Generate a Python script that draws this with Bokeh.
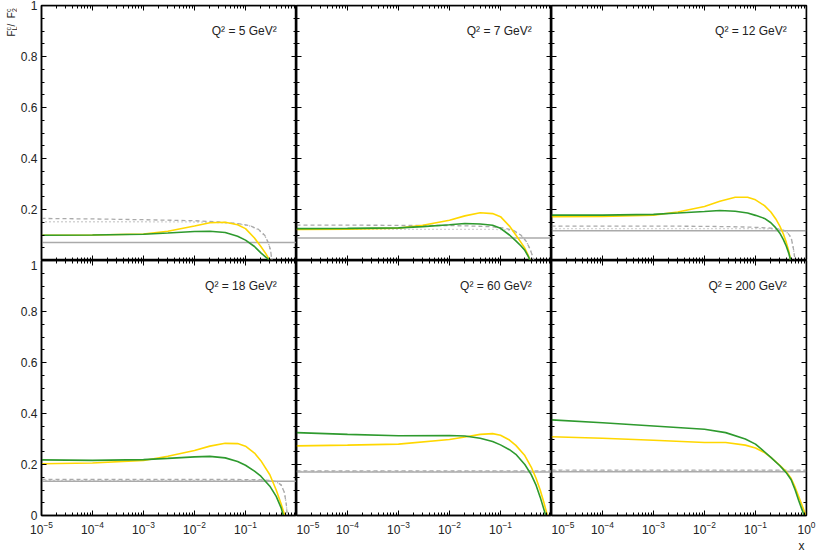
import math
from bokeh.plotting import figure
from bokeh.layouts import gridplot, row
from bokeh.models import (FixedTicker, LogAxis, LinearAxis, Label, NumeralTickFormatter,
                          LogTickFormatter, Range1d, CustomJSTickFormatter, Title)
from bokeh.embed import file_html
from bokeh.resources import INLINE

FONT = "Liberation Sans"

# ---------------- data ----------------
q2_titles = ["Q² = 5 GeV²", "Q² = 7 GeV²", "Q² = 12 GeV²",
             "Q² = 18 GeV²", "Q² = 60 GeV²", "Q² = 200 GeV²"]

x_major = [1e-5, 1e-4, 1e-3, 1e-2, 1e-1, 1.0]
y_major_top = [0.2, 0.4, 0.6, 0.8, 1.0]
y_major_bottom = [0, 0.2, 0.4, 0.6, 0.8, 1.0]

# Panel 1: Q2 = 5
p1_x = [1e-5, 1e-4, 1e-3, 3e-3, 1e-2, 2e-2, 4e-2, 7e-2, 0.1, 0.15, 0.2, 0.25, 0.3]
p1_green = [0.099, 0.100, 0.103, 0.108, 0.114, 0.115, 0.110, 0.095, 0.080, 0.055, 0.030, 0.013, 0.0]
p1_yellow = [0.099, 0.100, 0.104, 0.115, 0.135, 0.148, 0.150, 0.140, 0.125, 0.088, 0.055, 0.027, 0.0]
p1_gray_x = [1e-5, 1e-4, 1e-3, 1e-2, 3e-2, 0.07, 0.12, 0.18, 0.24, 0.28, 0.31, 0.33]
p1_dashed = [0.165, 0.163, 0.160, 0.156, 0.151, 0.145, 0.137, 0.122, 0.098, 0.070, 0.040, 0.0]
p1_dotted = [0.152, 0.152, 0.152, 0.151, 0.149, 0.144, 0.136, 0.121, 0.097, 0.069, 0.040, 0.0]
p1_flat = 0.071

# Panel 2: Q2 = 7
p2_x = [1e-5, 1e-4, 1e-3, 3e-3, 1e-2, 2e-2, 4e-2, 7e-2, 0.1, 0.15, 0.2, 0.25, 0.3, 0.35, 0.38]
p2_green = [0.125, 0.126, 0.128, 0.133, 0.140, 0.145, 0.143, 0.138, 0.126, 0.100, 0.077, 0.058, 0.040, 0.016, 0.0]
p2_yellow = [0.122, 0.123, 0.127, 0.138, 0.158, 0.175, 0.187, 0.184, 0.172, 0.135, 0.100, 0.072, 0.048, 0.020, 0.0]
p2_gray_x = [1e-5, 1e-3, 1e-2, 3e-2, 0.07, 0.12, 0.18, 0.25, 0.32, 0.38, 0.42, 0.45]
p2_dashed = [0.139, 0.138, 0.137, 0.135, 0.132, 0.127, 0.118, 0.100, 0.075, 0.045, 0.020, 0.0]
p2_dotted = [0.122, 0.122, 0.122, 0.122, 0.122, 0.121, 0.116, 0.100, 0.075, 0.045, 0.020, 0.0]
p2_flat = 0.088

# Panel 3: Q2 = 12
p3_x = [1e-5, 1e-4, 1e-3, 3e-3, 1e-2, 2e-2, 4e-2, 7e-2, 0.1, 0.15, 0.2, 0.25, 0.3, 0.35, 0.4, 0.45, 0.49]
p3_green = [0.178, 0.178, 0.181, 0.186, 0.192, 0.196, 0.193, 0.186, 0.177, 0.165, 0.148, 0.128, 0.107, 0.083, 0.057, 0.028, 0.0]
p3_yellow = [0.172, 0.173, 0.178, 0.190, 0.212, 0.232, 0.248, 0.248, 0.238, 0.215, 0.190, 0.163, 0.135, 0.105, 0.072, 0.036, 0.0]
p3_gray_x = [1e-5, 1e-3, 1e-2, 0.05, 0.1, 0.2, 0.3, 0.4, 0.5, 0.55, 0.6]
p3_dashed = [0.135, 0.135, 0.134, 0.132, 0.130, 0.127, 0.123, 0.115, 0.090, 0.050, 0.0]
p3_dotted = [0.125, 0.125, 0.125, 0.125, 0.125, 0.124, 0.121, 0.113, 0.090, 0.050, 0.0]
p3_flat = 0.117

# Panel 4: Q2 = 18
p4_green_x = [1e-5, 1e-4, 1e-3, 3e-3, 1e-2, 2e-2, 4e-2, 7e-2, 0.1, 0.15, 0.2, 0.3, 0.4, 0.5, 0.55]
p4_green = [0.218, 0.216, 0.219, 0.224, 0.230, 0.232, 0.226, 0.212, 0.197, 0.174, 0.154, 0.115, 0.075, 0.030, 0.0]
p4_yellow_x = [1e-5, 1e-4, 1e-3, 3e-3, 1e-2, 2e-2, 4e-2, 7e-2, 0.1, 0.15, 0.2, 0.3, 0.4, 0.5, 0.59]
p4_yellow = [0.203, 0.206, 0.216, 0.232, 0.255, 0.272, 0.283, 0.282, 0.272, 0.245, 0.215, 0.160, 0.100, 0.045, 0.0]
p4_gray_x = [1e-5, 1e-3, 1e-2, 0.1, 0.2, 0.3, 0.4, 0.5, 0.58, 0.63, 0.66]
p4_dashed = [0.142, 0.142, 0.142, 0.141, 0.140, 0.138, 0.133, 0.120, 0.090, 0.045, 0.0]
p4_dotted = [0.138, 0.138, 0.138, 0.138, 0.137, 0.136, 0.132, 0.119, 0.090, 0.045, 0.0]
p4_flat = 0.134

# Panel 5: Q2 = 60
p5_green_x = [1e-5, 1e-4, 1e-3, 1e-2, 2e-2, 4e-2, 7e-2, 0.1, 0.15, 0.2, 0.3, 0.4, 0.5, 0.6, 0.7, 0.77]
p5_green = [0.325, 0.318, 0.313, 0.314, 0.312, 0.303, 0.290, 0.277, 0.258, 0.240, 0.200, 0.160, 0.118, 0.072, 0.028, 0.0]
p5_yellow_x = [1e-5, 1e-4, 1e-3, 1e-2, 2e-2, 4e-2, 7e-2, 0.1, 0.15, 0.2, 0.3, 0.4, 0.5, 0.6, 0.7, 0.83]
p5_yellow = [0.273, 0.276, 0.280, 0.298, 0.308, 0.318, 0.321, 0.315, 0.296, 0.275, 0.235, 0.190, 0.145, 0.100, 0.055, 0.0]
p5_gray_x = [1e-5, 1.0]
p5_dashed = [0.175, 0.175]
p5_dotted = [0.173, 0.173]
p5_flat = 0.171

# Panel 6: Q2 = 200
p6_green_x = [1e-5, 1e-4, 1e-3, 1e-2, 2.6e-2, 6.3e-2, 0.1, 0.15, 0.2, 0.3, 0.4, 0.5, 0.6, 0.7, 0.8, 0.9]
p6_green = [0.375, 0.364, 0.351, 0.338, 0.325, 0.300, 0.280, 0.250, 0.228, 0.195, 0.168, 0.140, 0.100, 0.060, 0.028, 0.0]
p6_yellow_x = [1e-5, 1e-4, 1e-3, 1e-2, 2.6e-2, 6.3e-2, 0.1, 0.15, 0.2, 0.3, 0.4, 0.5, 0.6, 0.7, 0.8, 0.9, 0.97]
p6_yellow = [0.309, 0.303, 0.295, 0.286, 0.286, 0.276, 0.265, 0.247, 0.228, 0.197, 0.172, 0.145, 0.110, 0.075, 0.045, 0.018, 0.0]
p6_gray_x = [1e-5, 1.0]
p6_dashed = [0.178, 0.178]
p6_dotted = [0.175, 0.175]
p6_flat = 0.172

panels = [
    (p1_x, p1_green, p1_x, p1_yellow, p1_gray_x, p1_dashed, p1_dotted, p1_flat),
    (p2_x, p2_green, p2_x, p2_yellow, p2_gray_x, p2_dashed, p2_dotted, p2_flat),
    (p3_x, p3_green, p3_x, p3_yellow, p3_gray_x, p3_dashed, p3_dotted, p3_flat),
    (p4_green_x, p4_green, p4_yellow_x, p4_yellow, p4_gray_x, p4_dashed, p4_dotted, p4_flat),
    (p5_green_x, p5_green, p5_yellow_x, p5_yellow, p5_gray_x, p5_dashed, p5_dotted, p5_flat),
    (p6_green_x, p6_green, p6_yellow_x, p6_yellow, p6_gray_x, p6_dashed, p6_dotted, p6_flat),
]

# ---------------- styling ----------------
GREEN = "#2E9A2E"
YELLOW = "#FFD700"
GRAY = "#AAAAAA"
TXT = "#222222"

YLAB_W, YLAB_H = 17, 48
FWS = [255, 255, 255]
FH = 255
LEFT, RIGHT, TOP, BOTTOM = 41 - YLAB_W, 10, 5, 35

x_minor = [m * 10.0 ** e for e in range(-5, 0) for m in range(2, 10)]
y_minor = [round(i * 0.05, 2) for i in range(21)]


def style_axis(ax, show, standoff=4):
    ax.axis_line_color = "black"
    ax.axis_line_width = 1.5
    ax.major_tick_in = 5
    ax.major_tick_out = 0
    ax.minor_tick_in = 3
    ax.minor_tick_out = 0
    ax.major_tick_line_color = "black"
    ax.minor_tick_line_color = "black"
    ax.major_tick_line_width = 1
    ax.minor_tick_line_width = 1
    ax.major_label_text_font = FONT
    ax.major_label_text_font_size = "12px"
    ax.major_label_text_color = TXT
    if show:
        ax.major_label_standoff = standoff
    else:
        ax.major_label_standoff = 0
        ax.formatter = CustomJSTickFormatter(code="return ''")


figs = []
for idx, (gx, gy, yx, yy, grx, dsh, dot, flat) in enumerate(panels):
    r, col = divmod(idx, 3)
    p = figure(x_axis_type="log", x_range=Range1d(1e-5, 1.0), y_range=Range1d(0, 1),
               frame_width=FWS[col], frame_height=FH,
               min_border_left=LEFT if col == 0 else 0,
               min_border_right=RIGHT if col == 2 else 0,
               min_border_top=TOP if r == 0 else 0,
               min_border_bottom=BOTTOM if r == 1 else 0,
               output_backend="svg", toolbar_location=None,
               background_fill_color="white", border_fill_color="white",
               outline_line_color="black", outline_line_width=1.5)
    p.grid.visible = False

    # bottom axis
    bx = p.xaxis[0]
    show_x = r == 1
    bx.ticker = FixedTicker(ticks=(x_major if col == 2 else x_major[:-1]) if show_x else x_major,
                            minor_ticks=x_minor)
    if show_x:
        bx.formatter = LogTickFormatter()
    else:
        bx.fixed_location = 0
    style_axis(bx, show_x, standoff=5)
    # left axis
    ly = p.yaxis[0]
    show_y = col == 0
    ly.ticker = FixedTicker(ticks=(y_major_top if r == 0 else y_major_bottom) if show_y else y_major_bottom,
                            minor_ticks=y_minor)
    if show_y:
        ly.formatter = NumeralTickFormatter(format="0.[0]")
    else:
        ly.fixed_location = 1e-5
    style_axis(ly, show_y, standoff=4)
    # mirrored axes (placed on frame edges, no space taken)
    ax_top = LogAxis(ticker=FixedTicker(ticks=x_major, minor_ticks=x_minor), fixed_location=1.0)
    style_axis(ax_top, False)
    p.add_layout(ax_top, "above")
    ax_right = LinearAxis(ticker=FixedTicker(ticks=y_major_bottom, minor_ticks=y_minor), fixed_location=1.0)
    style_axis(ax_right, False)
    p.add_layout(ax_right, "right")

    # curves
    p.line([grx[0], 1.0], [flat, flat], line_color=GRAY, line_width=1.5)
    p.line(grx, dsh, line_color=GRAY, line_width=1.3, line_dash="4 3")
    p.line(grx, dot, line_color=GRAY, line_width=1.3, line_dash="1 3")
    p.line(yx, yy, line_color=YELLOW, line_width=1.6)
    p.line(gx, gy, line_color=GREEN, line_width=1.6)

    p.add_layout(Label(x=0.41, y=0.9, text=q2_titles[idx], text_align="right",
                       text_baseline="middle", text_font=FONT, text_font_size="12px",
                       text_color=TXT))
    figs.append(p)

# x axis title (below the tick labels of the last panel, right-aligned)
figs[5].add_layout(Title(text="x", align="right", text_font=FONT, text_font_size="12px",
                         text_font_style="normal", text_color=TXT, standoff=0, offset=2), "below")

# y axis title  F^c_L / F^c_2  in its own narrow canvas, built from pieces
ylab = figure(width=YLAB_W, height=YLAB_H, x_range=Range1d(0, YLAB_W), y_range=Range1d(0, YLAB_H),
              min_border=0, x_axis_location=None, y_axis_location=None,
              output_backend="svg", toolbar_location=None, outline_line_color=None,
              background_fill_color="white", border_fill_color="white")
ylab.grid.visible = False
ylab_pieces = [("F", 11, 12, "10px"), ("c", 7.5, 18, "7px"), ("L", 13.5, 18, "7px"),
               (" / ", 11, 22, "10px"), ("F", 11, 30.3, "10px"),
               ("c", 7.5, 36.4, "7px"), ("2", 13.5, 36.4, "7px")]
for t, sx, sy, fs in ylab_pieces:
    ylab.add_layout(Label(x=sx, y=sy, x_units="screen", y_units="screen", text=t,
                          angle=math.pi / 2, text_align="left", text_baseline="alphabetic",
                          text_font=FONT, text_font_size=fs, text_color=TXT))

grid = gridplot([figs[0:3], figs[3:6]], toolbar_location=None)
layout = row(ylab, grid)

open("out.html", "w").write(file_html(layout, INLINE))
